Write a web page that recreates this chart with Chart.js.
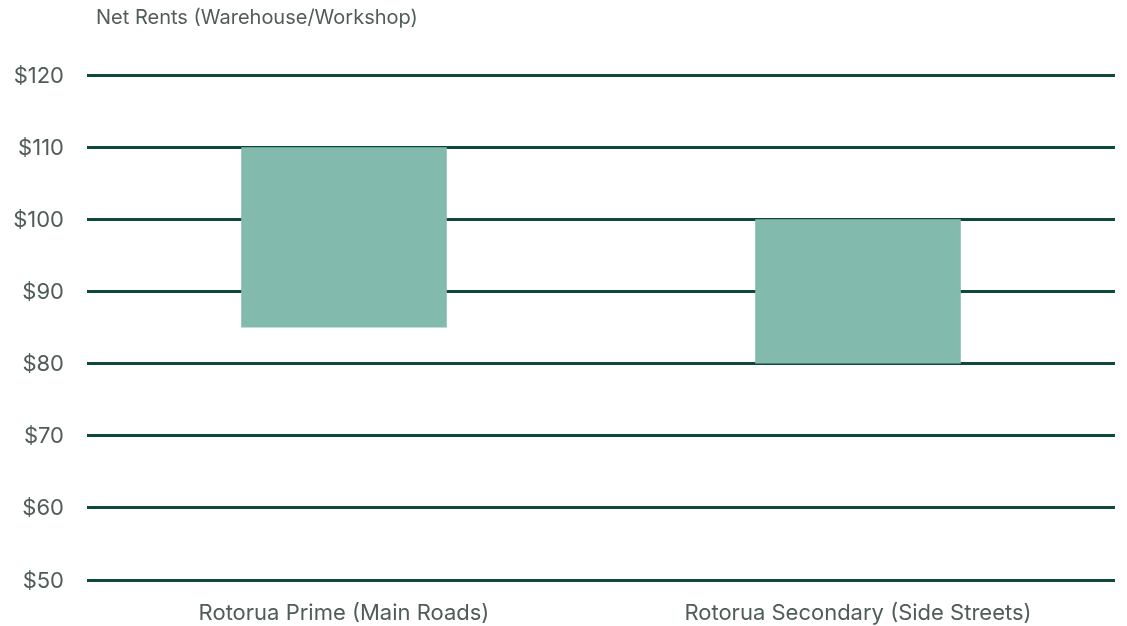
<!DOCTYPE html>
<html>
<head>
<meta charset="utf-8">
<script src="https://cdn.jsdelivr.net/npm/chart.js@4"></script>
<style>
html,body{margin:0;padding:0;background:#fff;}
#wrap{width:1127px;height:626px;}
</style>
</head>
<body>
<div id="wrap"><canvas id="c" width="1127" height="626"></canvas></div>
<script>
const chartTitle = "Net Rents (Warehouse/Workshop)";
const categories = ["Rotorua Prime (Main Roads)", "Rotorua Secondary (Side Streets)"];
const rentLow = [85, 80];
const rentHigh = [110, 100];
const yTicks = [50, 60, 70, 80, 90, 100, 110, 120];

const textColor = "#4f5c5a";
const gridColor = "#0d4a3b";
const barColor = "#82bbad";
const fontFamily = "Inter, Roboto, sans-serif";

const titlePlugin = {
  id: "topTitle",
  afterDraw(chart) {
    const ctx = chart.ctx;
    ctx.save();
    ctx.font = "20px " + fontFamily;
    ctx.fillStyle = textColor;
    ctx.textAlign = "left";
    ctx.textBaseline = "middle";
    ctx.fillText(chartTitle, chart.chartArea.left + 9, 18);
    ctx.restore();
  }
};

new Chart(document.getElementById("c"), {
  type: "bar",
  data: {
    labels: categories,
    datasets: [{
      data: categories.map((c, i) => [rentLow[i], rentHigh[i]]),
      backgroundColor: barColor,
      borderWidth: 0,
      barPercentage: 0.4,
      categoryPercentage: 1.0
    }]
  },
  options: {
    responsive: false,
    animation: false,
    devicePixelRatio: 1,
    layout: { padding: { left: 0, right: 12, top: 75, bottom: 0 } },
    plugins: { legend: { display: false }, tooltip: { enabled: false }, title: { display: false } },
    scales: {
      x: {
        grid: { display: false, drawTicks: false },
        border: { display: false },
        ticks: { color: textColor, font: { family: fontFamily, size: 22 }, padding: 20 },
        afterFit(scale) { scale.height = 46; }
      },
      y: {
        min: yTicks[0],
        max: yTicks[yTicks.length - 1],
        afterBuildTicks(scale) { scale.ticks = yTicks.map(v => ({ value: v })); },
        grid: { color: gridColor, lineWidth: 3, drawTicks: false },
        border: { display: false },
        ticks: {
          color: textColor,
          font: { family: fontFamily, size: 22 },
          padding: 23,
          labelOffset: 1,
          callback: v => "$" + v
        },
        afterFit(scale) { scale.width = 87; }
      }
    }
  },
  plugins: [titlePlugin]
});
</script>
</body>
</html>
